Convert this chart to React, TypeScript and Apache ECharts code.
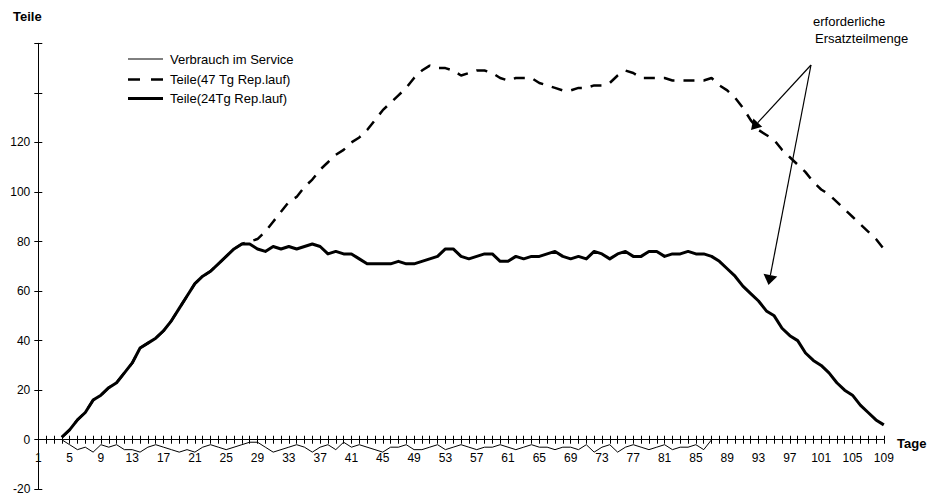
import React, { useEffect, useRef } from "react";
import * as echarts from "echarts";

const days: string[] = Array.from({ length: 109 }, (_, i) => String(i + 1));

const verbrauch: (number | null)[] = [
  null, null, null, 0, -2, -4, -3, -5, -2, -3,
  -2, -4, -4, -5, -3, -2, -3, -4, -5, -4,
  -5, -3, -2, -3, -4, -3, -2, -1, -1, -3,
  -5, -4, -3, -2, -3, -5, -3, -2, -4, -1,
  -3, -2, -3, -4, -5, -3, -3, -2, -4, -4,
  -3, -2, -4, -3, -2, -3, -4, -3, -3, -2,
  -3, -4, -3, -2, -3, -3, -4, -3, -3, -4,
  -2, -5, -3, -2, -5, -3, -2, -3, -4, -3,
  -2, -4, -3, -3, -2, -4, 0, null, null, null,
  null, null, null, null, null, null, null, null, null, null,
  null, null, null, null, null, null, null, null, null,
];

const teile24: (number | null)[] = [
  null, null, null, 1, 4, 8, 11, 16, 18, 21,
  23, 27, 31, 37, 39, 41, 44, 48, 53, 58,
  63, 66, 68, 71, 74, 77, 79, 79, 77, 76,
  78, 77, 78, 77, 78, 79, 78, 75, 76, 75,
  75, 73, 71, 71, 71, 71, 72, 71, 71, 72,
  73, 74, 77, 77, 74, 73, 74, 75, 75, 72,
  72, 74, 73, 74, 74, 75, 76, 74, 73, 74,
  73, 76, 75, 73, 75, 76, 74, 74, 76, 76,
  74, 75, 75, 76, 75, 75, 74, 72, 69, 66,
  62, 59, 56, 52, 50, 45, 42, 40, 35, 32,
  30, 27, 23, 20, 18, 14, 11, 8, 6,
];

const teile47: (number | null)[] = [
  null, null, null, 1, 4, 8, 11, 16, 18, 21,
  23, 27, 31, 37, 39, 41, 44, 48, 53, 58,
  63, 66, 68, 71, 74, 77, 79, 80, 81, 84,
  88, 92, 96, 98, 102, 105, 109, 112, 115, 117,
  120, 122, 125, 129, 133, 136, 139, 142, 146, 149,
  151, 150, 150, 149, 147, 148, 149, 149, 148, 146,
  145, 146, 146, 146, 144, 143, 142, 141, 141, 142,
  142, 143, 143, 144, 147, 149, 148, 146, 146, 146,
  146, 145, 145, 145, 145, 145, 146, 143, 141, 138,
  134, 129, 125, 123, 121, 117, 114, 111, 108, 104,
  101, 99, 96, 93, 90, 87, 84, 81, 77,
];

const seriesNames = ["Verbrauch im Service", "Teile(47 Tg Rep.lauf)", "Teile(24Tg Rep.lauf)"];
const yMin = -20;
const yMax = 160;
const yTickMaxLabel = 120;

const FONT = '"Liberation Sans", Arial, Helvetica, sans-serif';

const GRID = { left: 38.3, right: 50.2, top: 43.3, bottom: 5.7 };
const CH = 495;

const lineStyles: any[] = [
  { color: "#000", width: 1 },
  { color: "#000", width: 2.5, type: [11, 9] },
  { color: "#000", width: 3, join: "round" },
];

function arrow(x1: number, y1: number, tx: number, ty: number, len: number, halfW: number) {
  const dx = tx - x1;
  const dy = ty - y1;
  const L = Math.sqrt(dx * dx + dy * dy);
  const ux = dx / L;
  const uy = dy / L;
  const bx = tx - ux * len;
  const by = ty - uy * len;
  const px = -uy;
  const py = ux;
  return [
    {
      type: "line",
      shape: { x1, y1, x2: bx, y2: by },
      style: { stroke: "#000", lineWidth: 1.2 },
      silent: true,
    },
    {
      type: "polygon",
      shape: {
        points: [
          [tx, ty],
          [bx + px * halfW, by + py * halfW],
          [bx - px * halfW, by - py * halfW],
        ],
      },
      style: { fill: "#000" },
      silent: true,
    },
  ];
}

function legendItems() {
  const out: any[] = [];
  const rowsY = [59, 79.5, 98.5];
  seriesNames.forEach((name, i) => {
    const ls = lineStyles[i];
    out.push({
      type: "line",
      shape: { x1: 128, y1: rowsY[i], x2: 163, y2: rowsY[i] },
      style: {
        stroke: ls.color,
        lineWidth: ls.width,
        lineDash: Array.isArray(ls.type) ? [12, 11] : null,
      },
      silent: true,
    });
    out.push({
      type: "text",
      x: 170,
      y: rowsY[i],
      style: { text: name, font: `13px ${FONT}`, fill: "#000", verticalAlign: "middle", align: "left" },
      silent: true,
    });
  });
  return out;
}

export default function App() {
  const ref = useRef<HTMLDivElement>(null);
  useEffect(() => {
    if (!ref.current) return;
    const chart = echarts.init(ref.current, null, { renderer: "svg" });
    const black = "#000";
    const gridH = CH - GRID.top - GRID.bottom;
    const zeroOffset = -(gridH * (0 - yMin)) / (yMax - yMin);
    const xBase: any = {
      type: "category",
      data: days,
      boundaryGap: false,
      position: "bottom",
      offset: zeroOffset,
      axisLine: { show: true, onZero: false, lineStyle: { color: black, width: 1 } },
      splitLine: { show: false },
    };
    const yBase: any = {
      type: "value",
      min: yMin,
      max: yMax,
      interval: 20,
      position: "left",
      splitLine: { show: false },
    };
    chart.setOption({
      animation: false,
      backgroundColor: "#fff",
      textStyle: { fontFamily: FONT, color: black },
      grid: { ...GRID, containLabel: false, outerBoundsMode: "none" },
      xAxis: [
        {
          ...xBase,
          axisTick: { show: true, interval: 0, length: 4, inside: false, lineStyle: { color: black } },
          axisLabel: { interval: 3, color: black, fontSize: 12, margin: 12, fontFamily: FONT },
        },
        {
          ...xBase,
          axisTick: { show: true, interval: 0, length: 4, inside: true, lineStyle: { color: black } },
          axisLabel: { show: false },
        },
      ],
      yAxis: [
        {
          ...yBase,
          axisLine: { show: true, onZero: false, lineStyle: { color: black, width: 1 } },
          axisTick: { show: true, length: 4, inside: false, lineStyle: { color: black } },
          axisLabel: {
            color: black,
            fontSize: 12,
            margin: 8,
            fontFamily: FONT,
            formatter: (v: number) => (v > yTickMaxLabel ? "" : String(v)),
          },
        },
        {
          ...yBase,
          axisLine: { show: false, onZero: false },
          axisTick: { show: true, length: 4, inside: true, lineStyle: { color: black } },
          axisLabel: { show: false },
        },
      ],
      series: [
        {
          name: seriesNames[0],
          type: "line",
          data: verbrauch,
          symbol: "none",
          showSymbol: false,
          lineStyle: lineStyles[0],
          itemStyle: { color: black },
          z: 2,
        },
        {
          name: seriesNames[1],
          type: "line",
          data: teile47,
          symbol: "none",
          showSymbol: false,
          lineStyle: lineStyles[1],
          itemStyle: { color: black },
          z: 3,
        },
        {
          name: seriesNames[2],
          type: "line",
          data: teile24,
          symbol: "none",
          showSymbol: false,
          lineStyle: lineStyles[2],
          itemStyle: { color: black },
          z: 4,
        },
      ],
      graphic: [
        {
          type: "text",
          x: 13,
          y: 16,
          style: { text: "Teile", font: `bold 13px ${FONT}`, fill: black, verticalAlign: "middle", align: "left" },
        },
        {
          type: "text",
          x: 897,
          y: 443,
          style: { text: "Tage", font: `bold 13px ${FONT}`, fill: black, verticalAlign: "middle", align: "left" },
        },
        {
          type: "text",
          x: 813,
          y: 21,
          style: { text: "erforderliche", font: `13px ${FONT}`, fill: black, verticalAlign: "middle", align: "left" },
        },
        {
          type: "text",
          x: 815,
          y: 38.5,
          style: { text: "Ersatzteilmenge", font: `13px ${FONT}`, fill: black, verticalAlign: "middle", align: "left" },
        },
        ...legendItems(),
        ...arrow(811, 65, 751, 130, 10, 6),
        ...arrow(811, 65, 768.5, 285, 10, 7),
      ],
    });
    return () => {
      chart.dispose();
    };
  }, []);
  return (
    <div
      ref={ref}
      style={{ position: "fixed", left: 0, top: 0, width: 934, height: 495, background: "#fff" }}
    />
  );
}
